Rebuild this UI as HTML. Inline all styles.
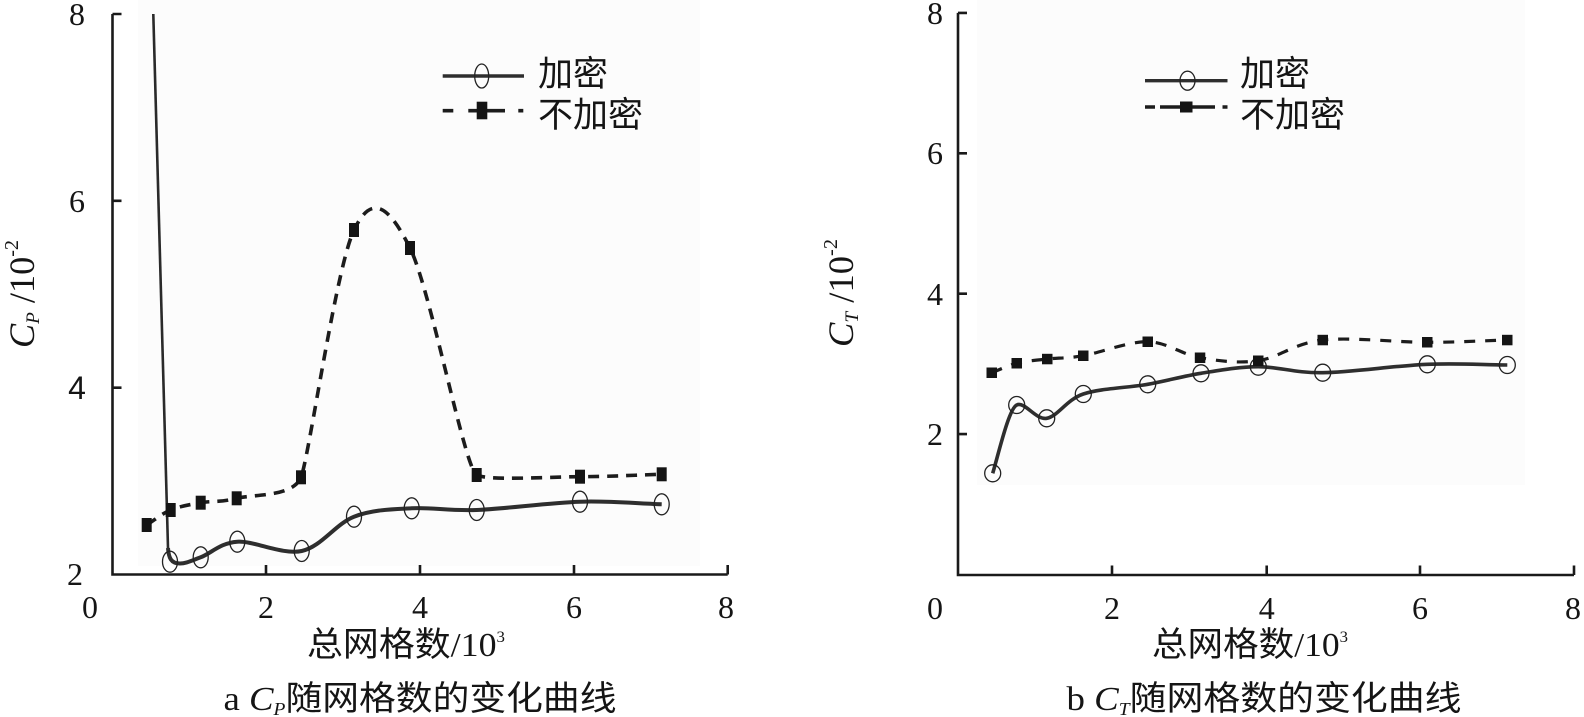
<!DOCTYPE html>
<html><head><meta charset="utf-8"><style>
html,body{margin:0;padding:0;background:#fff;}
svg{display:block;}
.n{font-family:"Liberation Serif","Noto Sans CJK SC",serif;fill:#151515;}
.c{font-family:"Liberation Serif","Noto Sans CJK SC",sans-serif;fill:#151515;}
</style></head><body>
<svg width="1584" height="717" viewBox="0 0 1584 717" xmlns="http://www.w3.org/2000/svg">
<rect x="0" y="0" width="1584" height="717" fill="#fff"/>
<!-- faint plot shading -->
<rect x="138" y="0" width="562" height="566" fill="#fcfcfc"/>
<rect x="977" y="0" width="548" height="485" fill="#fcfcfc"/>

<!-- ============ LEFT CHART ============ -->
<g stroke="#1a1a1a" stroke-width="2.6" fill="none">
<path d="M112.5,14 V574.5 H727.7"/>
<path d="M112.5,14 H121.5 M112.5,200.8 H121.5 M112.5,387.7 H121.5"/>
<path d="M266,574.5 V565 M420,574.5 V565 M574,574.5 V565 M727.7,574.5 V565"/>
</g>
<g class="n" font-size="32" text-anchor="middle">
<text x="77" y="25">8</text>
<text x="77" y="212">6</text>
<text x="77" y="399" font-family="Liberation Sans, sans-serif">4</text>
<text x="75" y="585">2</text>
<text x="90" y="618">0</text>
<text x="266" y="618">2</text>
<text x="420" y="618">4</text>
<text x="574" y="618">6</text>
<text x="726" y="618">8</text>
</g>
<text class="c" transform="translate(34,294) rotate(-90)" text-anchor="middle" font-size="36" textLength="108" lengthAdjust="spacingAndGlyphs"><tspan font-style="italic">C</tspan><tspan font-style="italic" font-size="19" dy="5">P</tspan><tspan dy="-5"> /10</tspan><tspan font-size="20" dy="-16">-2</tspan></text>
<text class="c" x="406" y="656" text-anchor="middle" font-size="34" textLength="198" lengthAdjust="spacingAndGlyphs">总网格数/10<tspan font-size="16" dy="-14">3</tspan></text>
<text class="c" x="420" y="710" text-anchor="middle" font-size="34" textLength="393" lengthAdjust="spacingAndGlyphs">a <tspan font-style="italic">C</tspan><tspan font-style="italic" font-size="18" dy="5">P</tspan><tspan dy="-5">随网格数的变化曲线</tspan></text>

<!-- left solid curve -->
<path d="M153.3,14 L168,548" stroke="#2a2a2a" stroke-width="2.6" fill="none"/>
<path d="M168,548 C168.7,558 171,563.5 180,563.5 C186,563.5 190.82,560.93 200.7,557.3 S220.47,542.75 237.3,541.7 S282.25,555.17 301.7,551 S335.67,523.82 354,516.7 S391.25,509.42 411.7,508.3 S448.65,511.1 476.7,510 S549.17,502.65 580,501.7 S634.5,503.43 661.7,504.3" stroke="#2e2e2e" stroke-width="4" fill="none" stroke-linejoin="round"/>
<g fill="none" stroke="#222" stroke-width="1.3">
<ellipse cx="170" cy="561.7" rx="7.5" ry="10.5"/>
<ellipse cx="200.7" cy="557.3" rx="7.5" ry="10.5"/>
<ellipse cx="237.3" cy="541.7" rx="7.5" ry="10.5"/>
<ellipse cx="301.7" cy="551" rx="7.5" ry="10.5"/>
<ellipse cx="354" cy="516.7" rx="7.5" ry="10.5"/>
<ellipse cx="411.7" cy="508.3" rx="7.5" ry="10.5"/>
<ellipse cx="476.7" cy="510" rx="7.5" ry="10.5"/>
<ellipse cx="580" cy="501.7" rx="7.5" ry="10.5"/>
<ellipse cx="661.7" cy="504.3" rx="7.5" ry="10.5"/>
</g>
<!-- left dashed curve -->
<path d="M146.7,525 C154.7,520 161.7,513.72 170.7,510 S189.7,504.65 200.7,502.7 S219.98,502.53 236.7,498.3 S293,497.3 301,477.3 S335.83,268.2 354,230 S389.55,207.17 410,248 S464.7,469 476.7,475 S549.17,476.82 580,476.7 S634.5,475.1 661.7,474.3" stroke="#1c1c1c" stroke-width="3.6" fill="none" stroke-dasharray="11 8"/>
<g fill="#141414">
<rect x="141.7" y="518" width="10" height="14"/>
<rect x="165.7" y="503" width="10" height="14"/>
<rect x="195.7" y="495.7" width="10" height="14"/>
<rect x="231.7" y="491.3" width="10" height="14"/>
<rect x="296" y="470.3" width="10" height="14"/>
<rect x="349" y="223" width="10" height="14"/>
<rect x="405" y="241" width="10" height="14"/>
<rect x="471.7" y="468" width="10" height="14"/>
<rect x="575" y="469.7" width="10" height="14"/>
<rect x="656.7" y="467.3" width="10" height="14"/>
</g>
<!-- left legend -->
<path d="M442.7,76 H524" stroke="#2e2e2e" stroke-width="3.6"/>
<ellipse cx="481.7" cy="76" rx="7" ry="12" fill="none" stroke="#222" stroke-width="1.3"/>
<text class="c" x="538" y="86" font-size="35">加密</text>
<g stroke="#1c1c1c" stroke-width="3.6">
<path d="M442.7,110.7 H453.3 M468.3,110.7 H477 M487,110.7 H505 M518.3,110.7 H523.3"/>
</g>
<rect x="476.7" y="101.7" width="10.6" height="17.6" fill="#141414"/>
<text class="c" x="538" y="127" font-size="35">不加密</text>

<!-- ============ RIGHT CHART ============ -->
<g stroke="#1a1a1a" stroke-width="2.6" fill="none">
<path d="M958,12.9 V575 H1574"/>
<path d="M958,12.9 H967 M958,153.3 H967 M958,293.7 H967 M958,434.1 H967"/>
<path d="M1112,575 V565.5 M1266.7,575 V565.5 M1420,575 V565.5 M1574,575 V565.5"/>
</g>
<g class="n" font-size="32" text-anchor="middle">
<text x="935" y="24">8</text>
<text x="935" y="164">6</text>
<text x="935" y="305">4</text>
<text x="935" y="445">2</text>
<text x="935" y="619">0</text>
<text x="1112" y="619">2</text>
<text x="1266.7" y="619">4</text>
<text x="1420" y="619">6</text>
<text x="1573" y="619">8</text>
</g>
<text class="c" transform="translate(853,293) rotate(-90)" text-anchor="middle" font-size="36" textLength="108" lengthAdjust="spacingAndGlyphs"><tspan font-style="italic">C</tspan><tspan font-style="italic" font-size="19" dy="5">T</tspan><tspan dy="-5"> /10</tspan><tspan font-size="20" dy="-16">-2</tspan></text>
<text class="c" x="1250" y="656" text-anchor="middle" font-size="34" textLength="196" lengthAdjust="spacingAndGlyphs">总网格数/10<tspan font-size="16" dy="-14">3</tspan></text>
<text class="c" x="1264" y="710" text-anchor="middle" font-size="34" textLength="395" lengthAdjust="spacingAndGlyphs">b <tspan font-style="italic">C</tspan><tspan font-style="italic" font-size="18" dy="5">T</tspan><tspan dy="-5">随网格数的变化曲线</tspan></text>

<!-- right solid -->
<path d="M992.7,473.3 C998.7,453.3 1008.7,409 1016.7,405 S1035.6,420.13 1046.7,418.3 S1066.47,399.67 1083.3,394 S1128.08,387.75 1147.7,384.3 S1182.57,376.23 1201,373.3 S1238.02,366.8 1258.3,366.7 S1294.53,373.1 1322.7,372.7 S1396.53,365.58 1427.3,364.3 S1480.63,364.77 1507.3,365" stroke="#2e2e2e" stroke-width="3.6" fill="none" stroke-linejoin="round"/>
<g fill="none" stroke="#222" stroke-width="1.3">
<ellipse cx="992.7" cy="473.3" rx="8" ry="8.5"/>
<ellipse cx="1016.7" cy="405" rx="8" ry="8.5"/>
<ellipse cx="1046.7" cy="418.3" rx="8" ry="8.5"/>
<ellipse cx="1083.3" cy="394" rx="8" ry="8.5"/>
<ellipse cx="1147.7" cy="384.3" rx="8" ry="8.5"/>
<ellipse cx="1201" cy="373.3" rx="8" ry="8.5"/>
<ellipse cx="1258.3" cy="366.7" rx="8" ry="8.5"/>
<ellipse cx="1322.7" cy="372.7" rx="8" ry="8.5"/>
<ellipse cx="1427.3" cy="364.3" rx="8" ry="8.5"/>
<ellipse cx="1507.3" cy="365" rx="8" ry="8.5"/>
</g>
<!-- right dashed -->
<path d="M991.7,372.7 C1000.03,369.57 1007.43,365.58 1016.7,363.3 S1036.2,360.27 1047.3,359 S1066.57,358.58 1083.3,355.7 S1128.25,341.37 1147.7,341.7 S1181.57,354.53 1200,357.7 S1237.85,363.65 1258.3,360.7 S1294.53,343.07 1322.7,340 S1396.53,342.3 1427.3,342.3 S1480.63,340.77 1507.3,340" stroke="#1c1c1c" stroke-width="3.2" fill="none" stroke-dasharray="11 10"/>
<g fill="#141414">
<rect x="986.5" y="367.5" width="10.5" height="10.5"/>
<rect x="1011.5" y="358" width="10.5" height="10.5"/>
<rect x="1042" y="353.8" width="10.5" height="10.5"/>
<rect x="1078" y="350.5" width="10.5" height="10.5"/>
<rect x="1142.5" y="336.5" width="10.5" height="10.5"/>
<rect x="1194.8" y="352.5" width="10.5" height="10.5"/>
<rect x="1253" y="355.5" width="10.5" height="10.5"/>
<rect x="1317.5" y="334.8" width="10.5" height="10.5"/>
<rect x="1422" y="337" width="10.5" height="10.5"/>
<rect x="1502" y="334.8" width="10.5" height="10.5"/>
</g>
<!-- right legend -->
<path d="M1145,80.7 H1227.5" stroke="#2e2e2e" stroke-width="3.4"/>
<ellipse cx="1187.5" cy="80.7" rx="7.5" ry="9.5" fill="none" stroke="#222" stroke-width="1.3"/>
<text class="c" x="1240" y="86" font-size="35">加密</text>
<g stroke="#1c1c1c" stroke-width="3.4">
<path d="M1145,107 H1155 M1160,107 H1181 M1191,107 H1215 M1222.5,107 H1227.5"/>
</g>
<rect x="1180" y="101.5" width="12.5" height="11" fill="#141414"/>
<text class="c" x="1240" y="127" font-size="35">不加密</text>
</svg>
</body></html>
